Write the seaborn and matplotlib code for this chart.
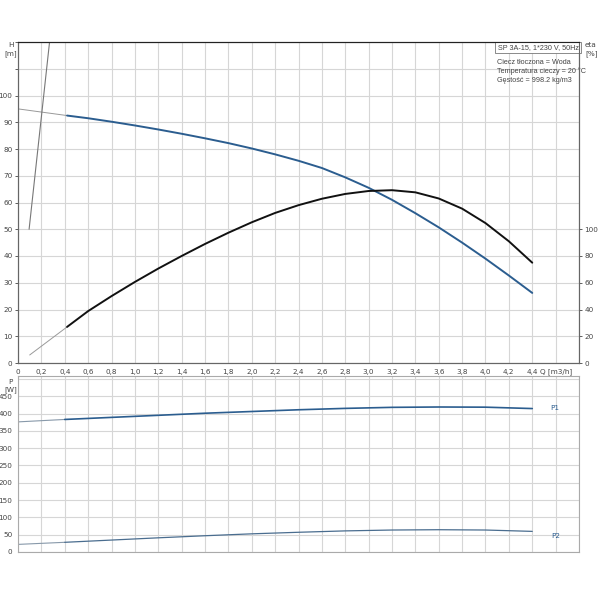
import numpy as np
import pandas as pd
import matplotlib
matplotlib.use("Agg")
import matplotlib.pyplot as plt
import seaborn as sns

# Flow rate points (m3/h)
q_main = [0.42, 0.6, 0.8, 1.0, 1.2, 1.4, 1.6, 1.8, 2.0, 2.2, 2.4, 2.6,
          2.8, 3.0, 3.2, 3.4, 3.6, 3.8, 4.0, 4.2, 4.4]
# Head curve H [m]
head = [92.5, 91.5, 90.2, 88.8, 87.3, 85.7, 84.0, 82.2, 80.2, 78.0, 75.6, 72.9,
        69.4, 65.5, 61.0, 56.0, 50.7, 45.0, 39.0, 32.7, 26.2]
# Efficiency curve eta [%] (right axis scale)
eta = [27, 38.8, 50.0, 60.6, 70.6, 80.0, 89.0, 97.4, 105.2, 112.2, 118.0, 122.8,
       126.4, 128.6, 129.2, 127.6, 123.0, 115.4, 104.6, 91.0, 75.0]
# thin extensions
q_head_ext = [0.0, 0.42]
head_ext = [95.0, 92.5]
q_eta_ext = [0.1, 0.42]
eta_ext = [6, 27]
q_steep = [0.095, 0.27]
h_steep = [50, 120]

# Power curves
q_pow = [0.4, 0.8, 1.2, 1.6, 2.0, 2.4, 2.8, 3.2, 3.6, 4.0, 4.4]
p1 = [383, 389, 395, 401, 406, 411, 415, 418, 419, 418.5, 414.5]
p2 = [28, 34.5, 41, 47, 52.5, 57, 61, 63.5, 64.4, 63.5, 59.6]
q_p_ext = [0.0, 0.4]
p1_ext = [376, 383]
p2_ext = [22, 28]

x_labels = ['0', '0,2', '0,4', '0,6', '0,8', '1,0', '1,2', '1,4', '1,6', '1,8', '2,0',
            '2,2', '2,4', '2,6', '2,8', '3,0', '3,2', '3,4', '3,6', '3,8', '4,0',
            '4,2', '4,4', 'Q [m3/h]', '']
h_ticks = list(range(0, 101, 10))
eta_ticks = list(range(0, 101, 20))
p_ticks = list(range(0, 451, 50))

sns.set_style("white")
plt.rcParams['font.family'] = ['DejaVu Sans']

blue = '#2b5d8f'
grid_c = '#d6d6d6'
txt_c = '#444444'
fs = 5.2
note_font = ['Liberation Sans', 'DejaVu Sans']

fig = plt.figure(figsize=(6, 6), dpi=100)
ax = fig.add_axes([0.03, 0.395, 0.935, 0.535])
axe = ax.twinx()
axp = fig.add_axes([0.03, 0.08, 0.935, 0.293])

main_df = pd.DataFrame({'Q': q_main, 'H': head, 'eta': eta})
pow_df = pd.DataFrame({'Q': q_pow, 'P1': p1, 'P2': p2})

# top chart
sns.lineplot(x=q_head_ext, y=head_ext, ax=ax, color='#999999', lw=0.7)
sns.lineplot(x=q_steep, y=h_steep, ax=ax, color='#777777', lw=0.8)
sns.lineplot(data=main_df, x='Q', y='H', ax=ax, color=blue, lw=1.4)
sns.lineplot(x=q_eta_ext, y=eta_ext, ax=axe, color='#999999', lw=0.7)
sns.lineplot(data=main_df, x='Q', y='eta', ax=axe, color='#111111', lw=1.4)

ax.set_xlim(0, 4.8)
ax.set_ylim(0, 120)
axe.set_ylim(0, 240)
ax.set_xticks(np.arange(0, 4.81, 0.2))
ax.set_xticklabels(x_labels)
ax.set_yticks(list(range(0, 121, 10)))
ax.set_yticklabels([str(v) for v in h_ticks] + ['', ''])
axe.set_yticks(eta_ticks)
ax.grid(True, color=grid_c, lw=0.8)
ax.set_xlabel('')
ax.set_ylabel('')
axe.set_ylabel('')
ax.tick_params(axis='both', labelsize=fs, colors=txt_c, length=2, width=0.6, pad=2)
axe.tick_params(axis='y', labelsize=fs, colors=txt_c, length=2, width=0.6, pad=2)
for a in (ax, axe):
    for s in a.spines.values():
        s.set_color('#666666')
        s.set_linewidth(0.8)
    a.spines['top'].set_color('#222222')
ax.set_zorder(axe.get_zorder() - 1)
axe.patch.set_visible(False)

fig.text(0.018, 0.925, 'H', fontsize=fs, color=txt_c, ha='center', va='center')
fig.text(0.018, 0.91, '[m]', fontsize=fs, color=txt_c, ha='center', va='center')
fig.text(0.975, 0.925, 'eta', fontsize=fs, color=txt_c, ha='left', va='center')
fig.text(0.975, 0.91, '[%]', fontsize=fs, color=txt_c, ha='left', va='center')
ax.text(0.999, 0.994, 'SP 3A-15, 1*230 V, 50Hz', transform=ax.transAxes, fontsize=fs,
        family=note_font, color=txt_c, ha='right', va='top',
        bbox=dict(boxstyle='square,pad=0.3', fc='white', ec='#777777', lw=0.6))
ax.text(0.853, 0.947, 'Ciecz tłoczona = Woda\nTemperatura cieczy = 20 °C\nGęstość = 998.2 kg/m3',
        transform=ax.transAxes, fontsize=fs, family=note_font, color=txt_c,
        ha='left', va='top', linespacing=1.3)

# bottom chart
sns.lineplot(x=q_p_ext, y=p1_ext, ax=axp, color='#8899aa', lw=0.8)
sns.lineplot(x=q_p_ext, y=p2_ext, ax=axp, color='#8899aa', lw=0.8)
sns.lineplot(data=pow_df, x='Q', y='P1', ax=axp, color=blue, lw=1.2)
sns.lineplot(data=pow_df, x='Q', y='P2', ax=axp, color='#4a6d8f', lw=0.9)
axp.set_xlim(0, 4.8)
axp.set_ylim(0, 508)
axp.set_xticks(np.arange(0, 4.81, 0.2))
axp.set_xticklabels([])
axp.set_yticks(list(range(0, 501, 50)))
axp.set_yticklabels([str(v) for v in p_ticks] + [''])
axp.grid(True, color=grid_c, lw=0.8)
axp.set_xlabel('')
axp.set_ylabel('')
axp.tick_params(axis='both', labelsize=fs, colors=txt_c, length=2, width=0.6, pad=2)
axp.tick_params(axis='x', length=0)
for s in axp.spines.values():
    s.set_color('#aaaaaa')
    s.set_linewidth(0.8)
axp.text(4.55, 416, 'P1', fontsize=fs, color=blue, ha='left', va='center')
axp.text(4.56, 46, 'P2', fontsize=fs, color=blue, ha='left', va='center')
fig.text(0.018, 0.363, 'P', fontsize=fs, color=txt_c, ha='center', va='center')
fig.text(0.018, 0.35, '[W]', fontsize=fs, color=txt_c, ha='center', va='center')

fig.savefig('out.png', dpi=100, facecolor='white')
